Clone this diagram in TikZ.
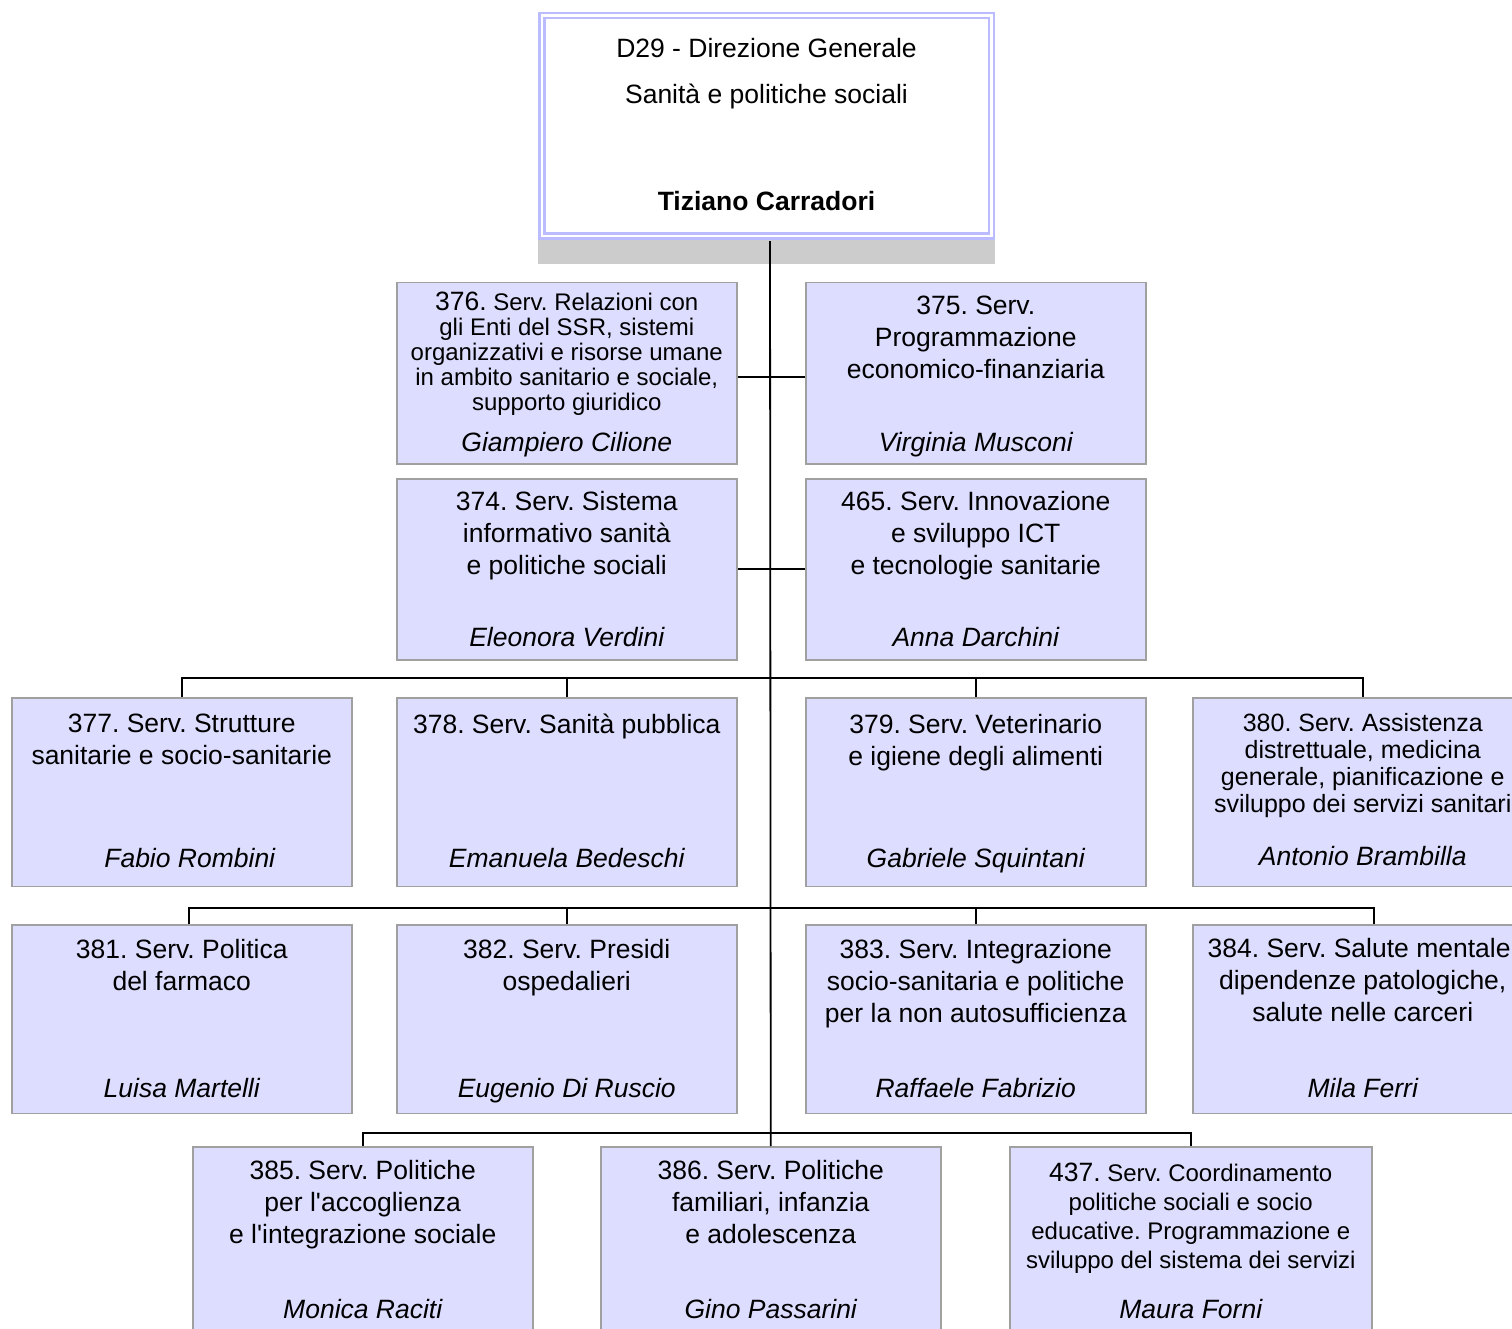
\documentclass[tikz,border=0pt]{standalone}
\usepackage{fontspec}
\setmainfont{Liberation Sans}
\usetikzlibrary{calc}
\frenchspacing
\definecolor{boxfill}{HTML}{DDDDFF}
\definecolor{boxline}{HTML}{A0A0A0}
\definecolor{dgline}{HTML}{BBBBFF}
\definecolor{dgshadow}{HTML}{CCCCCC}
\newcommand{\servnum}[1]{{\fontsize{26.5}{32}\selectfont #1}}
\tikzset{
  serv/.style={draw=boxline, fill=boxfill, line width=1.5pt, anchor=north west, minimum width=340pt, minimum height=188.5pt, inner sep=0pt},
  dgbox/.style={draw=dgline, double=white, line width=2.5pt, double distance=2.5pt, fill=white, minimum width=449.5pt, minimum height=220.5pt, inner sep=0pt},
  tit/.style={anchor=north, align=center, inner sep=0pt, font=\fontsize{26.5}{32}\selectfont},
  tits/.style={tit, font=\fontsize{24}{25}\selectfont},
  chi/.style={anchor=base, inner sep=0pt, font=\fontsize{26.5}{32}\selectfont\itshape},
  capo/.style={anchor=base, inner sep=0pt, font=\fontsize{26.5}{32}\selectfont},
  link/.style={draw=black, line width=1.8pt},
}
\begin{document}
\begin{tikzpicture}[x=1pt, y=-1pt]
  \useasboundingbox (0,0) rectangle (1512,1329);
  \clip (0,0) rectangle (1512,1329);
  \fill[dgshadow] (538,36) rectangle (995,264);
  \node[dgbox] (dg) at (766.5,126) {};
  \node[capo] (dg1) at (766.5,57.5) {D29 - Direzione Generale};
  \node[capo] (dg2) at (766.5,103.5) {Sanità e politiche sociali};
  \node[capo, font=\fontsize{26.5}{32}\selectfont\bfseries] (dgn) at (766.5,210.5) {Tiziano Carradori};

  \node[serv, minimum height=181pt] (b376) at (396,282) {};
  \node[serv, minimum height=181pt] (b375) at (805,282) {};
  \node[serv, minimum height=181pt] (b374) at (396,478) {};
  \node[serv, minimum height=181pt] (b465) at (805,478) {};
  \node[serv] (b377) at (11,697) {};
  \node[serv] (b378) at (396,697) {};
  \node[serv] (b379) at (805,697) {};
  \node[serv] (b380) at (1192,697) {};
  \node[serv] (b381) at (11,924) {};
  \node[serv] (b382) at (396,924) {};
  \node[serv] (b383) at (805,924) {};
  \node[serv] (b384) at (1192,924) {};
  \node[serv] (b385) at (192,1146) {};
  \node[serv] (b386) at (600,1146) {};
  \node[serv, minimum width=362pt] (b437) at (1009,1146) {};

  \node[tits, yshift=-10pt] (t376) at (b376.north) {\servnum{376.} Serv. Relazioni con\\gli Enti del SSR, sistemi\\organizzativi e risorse umane\\in ambito sanitario e sociale,\\supporto giuridico};
  \node[tit, yshift=-14pt] (t375) at (b375.north) {375. Serv.\\Programmazione\\economico-finanziaria};
  \node[tit, yshift=-13pt] (t374) at (b374.north) {374. Serv. Sistema\\informativo sanità\\e politiche sociali};
  \node[tit, yshift=-13pt] (t465) at (b465.north) {465. Serv. Innovazione\\e sviluppo ICT\\e tecnologie sanitarie};
  \node[tit, yshift=-17pt] (t377) at (b377.north) {377. Serv. Strutture\\sanitarie e socio-sanitarie};
  \node[tit, yshift=-17pt] (t378) at (b378.north) {378. Serv. Sanità pubblica};
  \node[tit, yshift=-17pt] (t379) at (b379.north) {379. Serv. Veterinario\\e igiene degli alimenti};
  \node[tit, yshift=-16pt, font=\fontsize{25}{27}\selectfont] (t380) at (b380.north) {380. Serv. Assistenza\\distrettuale, medicina\\generale, pianificazione e\\sviluppo dei servizi sanitari};
  \node[tit, yshift=-15pt] (t381) at (b381.north) {381. Serv. Politica\\del farmaco};
  \node[tit, yshift=-15pt] (t382) at (b382.north) {382. Serv. Presidi\\ospedalieri};
  \node[tit, yshift=-15pt] (t383) at (b383.north) {383. Serv. Integrazione\\socio-sanitaria e politiche\\per la non autosufficienza};
  \node[tit, yshift=-14pt] (t384) at (b384.north) {384. Serv. Salute mentale,\\dipendenze patologiche,\\salute nelle carceri};
  \node[tit, yshift=-14pt] (t385) at (b385.north) {385. Serv. Politiche\\per l\textquotesingle accoglienza\\e l\textquotesingle integrazione sociale};
  \node[tit, yshift=-14pt] (t386) at (b386.north) {386. Serv. Politiche\\familiari, infanzia\\e adolescenza};
  \node[tits, yshift=-17pt, font=\fontsize{24}{29}\selectfont] (t437) at (b437.north) {\servnum{437.} Serv. Coordinamento\\politiche sociali e socio\\educative. Programmazione e\\sviluppo del sistema dei servizi};

  \node[chi, yshift=13.5pt] (n376) at (b376.south) {Giampiero Cilione};
  \node[chi, yshift=13.5pt] (n375) at (b375.south) {Virginia Musconi};
  \node[chi, yshift=14.5pt] (n374) at (b374.south) {Eleonora Verdini};
  \node[chi, yshift=14.5pt] (n465) at (b465.south) {Anna Darchini};
  \node[chi, yshift=19.5pt, xshift=8pt] (n377) at (b377.south) {Fabio Rombini};
  \node[chi, yshift=19.5pt] (n378) at (b378.south) {Emanuela Bedeschi};
  \node[chi, yshift=19.5pt] (n379) at (b379.south) {Gabriele Squintani};
  \node[chi, yshift=21.5pt] (n380) at (b380.south) {Antonio Brambilla};
  \node[chi, yshift=16.5pt] (n381) at (b381.south) {Luisa Martelli};
  \node[chi, yshift=16.5pt] (n382) at (b382.south) {Eugenio Di Ruscio};
  \node[chi, yshift=16.5pt] (n383) at (b383.south) {Raffaele Fabrizio};
  \node[chi, yshift=16.5pt] (n384) at (b384.south) {Mila Ferri};
  \node[chi, yshift=17.5pt] (n385) at (b385.south) {Monica Raciti};
  \node[chi, yshift=17.5pt] (n386) at (b386.south) {Gino Passarini};
  \node[chi, yshift=17.5pt] (n437) at (b437.south) {Maura Forni};

  \coordinate (bus1) at (770,678);
  \coordinate (bus2) at (770,908);
  \coordinate (bus3) at (770,1133);
  \draw[link] ([xshift=3.5pt,yshift=-3.75pt]dg.south) -- (b386.north);
  \draw[link] ([yshift=-3.5pt]b376.east) -- ([yshift=-3.5pt]b375.west);
  \draw[link] (b374.east) -- (b465.west);
  \draw[link] (b377.north) |- (bus1) -| (b380.north);
  \draw[link] (b378.north) -- (b378.north |- bus1);
  \draw[link] (b379.north) -- (b379.north |- bus1);
  \draw[link] ([xshift=7pt]b381.north) |- (bus2) -| ([xshift=11pt]b384.north);
  \draw[link] (b382.north) -- (b382.north |- bus2);
  \draw[link] (b383.north) -- (b383.north |- bus2);
  \draw[link] (b385.north) |- (bus3) -| (b437.north);
\end{tikzpicture}
\end{document}
